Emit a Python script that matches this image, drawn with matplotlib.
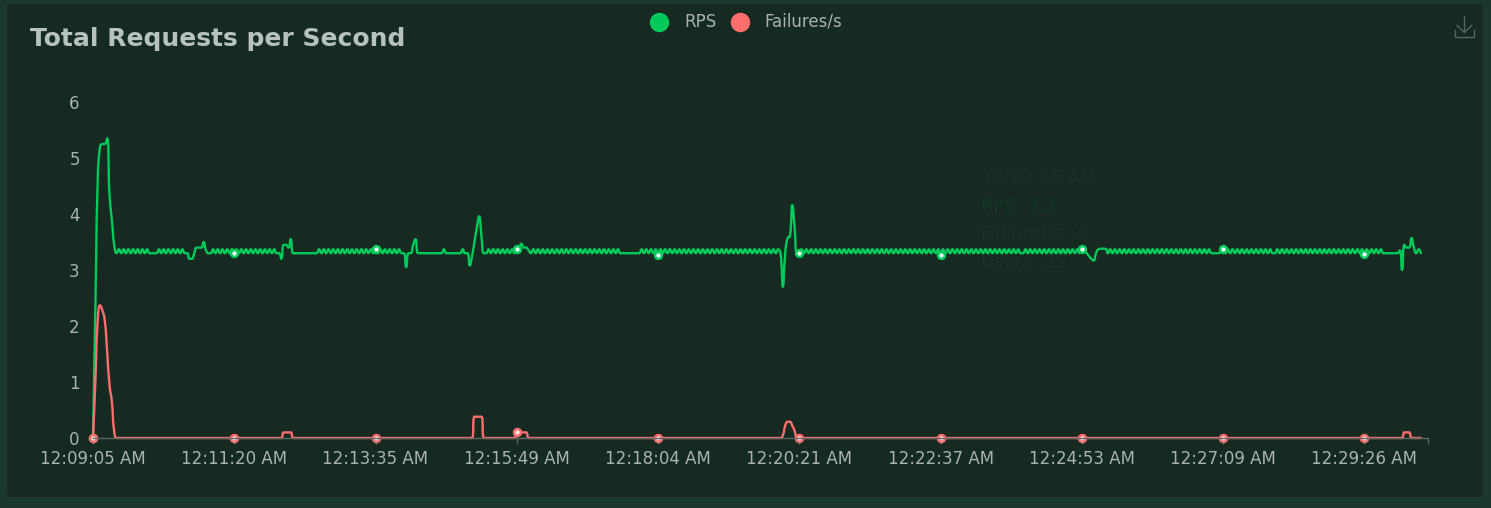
import numpy as np
import matplotlib
matplotlib.use("Agg")
import matplotlib.pyplot as plt
from matplotlib.patches import FancyBboxPatch, PathPatch
from matplotlib.path import Path

# x axis: one category per sample, labels every 60 samples
time_labels = ["12:09:05 AM", "12:11:20 AM", "12:13:35 AM", "12:15:49 AM", "12:18:04 AM",
               "12:20:21 AM", "12:22:37 AM", "12:24:53 AM", "12:27:09 AM", "12:29:26 AM"]
label_step = 60

# RPS samples (rows of 10)
rps = [
    0.0, 2.3, 4.6, 5.2, 5.25, 5.25, 5.35, 4.35, 3.9, 3.45,
    3.3, 3.37, 3.3, 3.37, 3.3, 3.37, 3.3, 3.37, 3.3, 3.37,
    3.3, 3.37, 3.3, 3.37, 3.3, 3.3, 3.3, 3.3, 3.37, 3.3,
    3.37, 3.3, 3.37, 3.3, 3.37, 3.3, 3.37, 3.3, 3.37, 3.3,
    3.3, 3.2, 3.2, 3.3, 3.4, 3.4, 3.4, 3.5, 3.35, 3.3,
    3.3, 3.37, 3.3, 3.37, 3.3, 3.37, 3.3, 3.37, 3.3, 3.37,
    # 12:11:20
    3.3, 3.37, 3.3, 3.37, 3.3, 3.37, 3.3, 3.37, 3.3, 3.37,
    3.3, 3.37, 3.3, 3.37, 3.3, 3.37, 3.3, 3.37, 3.3, 3.3,
    3.2, 3.45, 3.45, 3.4, 3.55, 3.3, 3.3, 3.3, 3.3, 3.3,
    3.3, 3.3, 3.3, 3.3, 3.3, 3.3, 3.37, 3.3, 3.37, 3.3,
    3.37, 3.3, 3.37, 3.3, 3.37, 3.3, 3.37, 3.3, 3.37, 3.3,
    3.37, 3.3, 3.37, 3.3, 3.37, 3.3, 3.37, 3.3, 3.37, 3.3,
    # 12:13:35
    3.37, 3.3, 3.37, 3.3, 3.37, 3.3, 3.37, 3.3, 3.37, 3.3,
    3.37, 3.3, 3.3, 3.05, 3.3, 3.3, 3.45, 3.55, 3.3, 3.3,
    3.3, 3.3, 3.3, 3.3, 3.3, 3.3, 3.3, 3.3, 3.3, 3.37,
    3.3, 3.3, 3.3, 3.3, 3.3, 3.3, 3.3, 3.37, 3.3, 3.3,
    3.08, 3.25, 3.5, 3.75, 3.96, 3.6, 3.3, 3.3, 3.37, 3.3,
    3.37, 3.3, 3.37, 3.3, 3.37, 3.3, 3.37, 3.3, 3.37, 3.3,
    # 12:15:49
    3.37, 3.4, 3.47, 3.4, 3.4, 3.35, 3.3, 3.37, 3.3, 3.37,
    3.3, 3.37, 3.3, 3.37, 3.3, 3.37, 3.3, 3.37, 3.3, 3.37,
    3.3, 3.37, 3.3, 3.37, 3.3, 3.37, 3.3, 3.37, 3.3, 3.37,
    3.3, 3.37, 3.3, 3.37, 3.3, 3.37, 3.3, 3.37, 3.3, 3.37,
    3.3, 3.37, 3.3, 3.37, 3.3, 3.3, 3.3, 3.3, 3.3, 3.3,
    3.3, 3.3, 3.3, 3.37, 3.3, 3.37, 3.3, 3.37, 3.3, 3.37,
    # 12:18:04
    3.27, 3.37, 3.3, 3.37, 3.3, 3.37, 3.3, 3.37, 3.3, 3.37,
    3.3, 3.37, 3.3, 3.37, 3.3, 3.37, 3.3, 3.37, 3.3, 3.37,
    3.3, 3.37, 3.3, 3.37, 3.3, 3.37, 3.3, 3.37, 3.3, 3.37,
    3.3, 3.37, 3.3, 3.37, 3.3, 3.37, 3.3, 3.37, 3.3, 3.37,
    3.3, 3.37, 3.3, 3.37, 3.3, 3.37, 3.3, 3.37, 3.3, 3.37,
    3.3, 3.37, 3.3, 2.7, 3.3, 3.57, 3.6, 4.16, 3.75, 3.3,
    # 12:20:21
    3.3, 3.37, 3.3, 3.37, 3.3, 3.37, 3.3, 3.37, 3.3, 3.37,
    3.3, 3.37, 3.3, 3.37, 3.3, 3.37, 3.3, 3.37, 3.3, 3.37,
    3.3, 3.37, 3.3, 3.37, 3.3, 3.37, 3.3, 3.37, 3.3, 3.37,
    3.3, 3.37, 3.3, 3.37, 3.3, 3.37, 3.3, 3.37, 3.3, 3.37,
    3.3, 3.37, 3.3, 3.37, 3.3, 3.37, 3.3, 3.37, 3.3, 3.37,
    3.3, 3.37, 3.3, 3.37, 3.3, 3.37, 3.3, 3.37, 3.3, 3.37,
    # 12:22:37
    3.27, 3.37, 3.3, 3.37, 3.3, 3.37, 3.3, 3.37, 3.3, 3.37,
    3.3, 3.37, 3.3, 3.37, 3.3, 3.37, 3.3, 3.37, 3.3, 3.37,
    3.3, 3.37, 3.3, 3.37, 3.3, 3.37, 3.3, 3.37, 3.3, 3.37,
    3.3, 3.37, 3.3, 3.37, 3.3, 3.3, 3.37, 3.3, 3.37, 3.3,
    3.37, 3.3, 3.37, 3.3, 3.37, 3.3, 3.37, 3.3, 3.37, 3.3,
    3.37, 3.3, 3.37, 3.3, 3.37, 3.3, 3.37, 3.3, 3.37, 3.3,
    # 12:24:53
    3.38, 3.35, 3.3, 3.25, 3.2, 3.17, 3.3, 3.37, 3.38, 3.38,
    3.38, 3.3, 3.37, 3.3, 3.37, 3.3, 3.37, 3.3, 3.37, 3.3,
    3.37, 3.3, 3.37, 3.3, 3.37, 3.3, 3.37, 3.3, 3.37, 3.3,
    3.37, 3.3, 3.37, 3.3, 3.37, 3.3, 3.37, 3.3, 3.37, 3.3,
    3.37, 3.3, 3.37, 3.3, 3.37, 3.3, 3.37, 3.3, 3.37, 3.3,
    3.37, 3.3, 3.37, 3.3, 3.37, 3.3, 3.3, 3.3, 3.3, 3.33,
    # 12:27:09
    3.37, 3.3, 3.37, 3.3, 3.37, 3.3, 3.37, 3.3, 3.37, 3.3,
    3.37, 3.3, 3.37, 3.3, 3.37, 3.3, 3.37, 3.3, 3.37, 3.3,
    3.37, 3.3, 3.3, 3.37, 3.3, 3.37, 3.3, 3.37, 3.3, 3.37,
    3.3, 3.37, 3.3, 3.37, 3.3, 3.37, 3.3, 3.37, 3.3, 3.37,
    3.3, 3.37, 3.3, 3.37, 3.3, 3.37, 3.3, 3.37, 3.3, 3.37,
    3.3, 3.37, 3.3, 3.37, 3.3, 3.37, 3.3, 3.37, 3.3, 3.37,
    # 12:29:26
    3.28, 3.37, 3.3, 3.37, 3.3, 3.37, 3.3, 3.37, 3.3, 3.3,
    3.3, 3.3, 3.3, 3.3, 3.3, 3.35, 3.0, 3.45, 3.4, 3.4,
    3.57, 3.4, 3.3, 3.37, 3.3,
]

# failures/s is 0 except for these samples
fail_index = [1, 2, 3, 4, 5, 6, 7, 8, 9,
              81, 82, 83, 84,
              162, 163, 164, 165,
              180, 181, 182, 183, 184,
              293, 294, 295, 296, 297, 298,
              557, 558, 559]
fail_value = [1.0, 2.1, 2.37, 2.28, 2.1, 1.55, 0.95, 0.65, 0.12,
              0.1, 0.1, 0.1, 0.1,
              0.38, 0.38, 0.38, 0.38,
              0.1, 0.08, 0.1, 0.1, 0.1,
              0.05, 0.22, 0.29, 0.29, 0.22, 0.13,
              0.1, 0.1, 0.1]

failures = np.zeros(len(rps))
failures[fail_index] = fail_value
x = np.arange(len(rps))

outer_bg = "#1b382c"
card_bg = "#162a22"
green = "#00ca5a"
red = "#ff6d6d"
text_col = "#a9b4ae"
axis_col = "#5c6862"

W, H = 1491, 508
X0, X1, Y0, Y1 = 93, 1428, 438, 102
XMAX, YMAX = 567, 6


def smooth_path(xs, ys, sx, sy, smooth=0.5):
    """Bezier path through the points, echarts-style smoothing (done in pixel units)."""
    p = np.column_stack([np.asarray(xs, float) * sx, np.asarray(ys, float) * sy])
    n = len(p)
    cin = p.copy()
    cout = p.copy()
    for i in range(1, n - 1):
        prev, cur, nxt = p[i - 1], p[i], p[i + 1]
        v = nxt - prev
        l0 = np.hypot(*(cur - prev))
        l1 = np.hypot(*(nxt - cur))
        if l0 + l1 == 0:
            continue
        r = l1 / (l0 + l1)
        c_next = cur + v * smooth * r
        c_next = np.clip(c_next, np.minimum(cur, nxt), np.maximum(cur, nxt))
        v = c_next - cur
        c_prev = cur - v * (l0 / l1 if l1 else 0)
        c_prev = np.clip(c_prev, np.minimum(cur, prev), np.maximum(cur, prev))
        v = cur - c_prev
        c_next = cur + v * (l1 / l0 if l0 else 0)
        cin[i] = c_prev
        cout[i] = c_next
    verts = [p[0]]
    codes = [Path.MOVETO]
    for i in range(n - 1):
        verts += [cout[i], cin[i + 1], p[i + 1]]
        codes += [Path.CURVE4] * 3
    verts = np.array(verts) / [sx, sy]
    return Path(verts, codes)


fig = plt.figure(figsize=(W / 100, H / 100), dpi=100)
fig.patch.set_facecolor(outer_bg)

# background layer in pixel coordinates
bg = fig.add_axes([0, 0, 1, 1])
bg.set_xlim(0, W)
bg.set_ylim(H, 0)
bg.axis("off")
bg.add_patch(FancyBboxPatch((7, 4), 1476, 493, boxstyle="round,pad=0,rounding_size=4",
                            fc=card_bg, ec="none"))
bg.text(30, 46, "Total Requests per Second", fontsize=18, fontweight="bold",
        color="#b6c2bb", va="baseline", ha="left")

# legend
bg.plot(659, 21.5, "o", ms=14, color=green, mec="none")
bg.text(684, 26.7, "RPS", fontsize=12, color=text_col, va="baseline")
bg.plot(740, 21.5, "o", ms=14, color=red, mec="none")
bg.text(764, 26.7, "Failures/s", fontsize=12, color=text_col, va="baseline")

# download icon
icon = "#56675f"
bg.plot([1464.3, 1464.3], [16, 32], color=icon, lw=1)
bg.plot([1457, 1464.3, 1471.6], [25.5, 32.5, 25.5], color=icon, lw=1)
bg.plot([1454.5, 1454.5, 1474, 1474], [30, 37, 37, 30], color=icon, lw=1)

# faded tooltip left on the chart
ghost = "#1c3028"
bg.text(981, 178, "12:22:35 AM", fontsize=13, color=ghost, va="center")
bg.text(981, 206.5, "RPS: 3.3", fontsize=13, color="#113825", va="center")
bg.text(981, 234, "Failures/s: 0", fontsize=13, color=ghost, va="center")
bg.text(981, 262, "Users: 25", fontsize=13, color=ghost, va="center")

# chart area
ax = fig.add_axes([X0 / W, (H - Y0) / H, (X1 - X0) / W, (Y0 - Y1) / H])
ax.set_facecolor("none")
sx = (X1 - X0) / XMAX
sy = (Y0 - Y1) / YMAX
for series, col, face in [(rps, green, "#eaf7ef"), (failures, red, "#f7e4e4")]:
    ax.add_patch(PathPatch(smooth_path(x, series, sx, sy), fc="none", ec=col, lw=1.7,
                           clip_on=False, joinstyle="round", capstyle="round"))
    ax.plot(x, series, ls="none", marker="o", markevery=label_step, ms=5, mfc=face,
            mec=col, mew=1.8, clip_on=False)

ax.set_xlim(0, XMAX)
ax.set_ylim(0, YMAX)
ax.set_xticks(np.arange(len(time_labels)) * label_step)
ax.set_xticklabels(time_labels)
ax.set_xticks([XMAX], minor=True)
ax.set_yticks(range(0, YMAX + 1))

for side in ["top", "right", "left"]:
    ax.spines[side].set_visible(False)
ax.spines["bottom"].set_color(axis_col)
ax.spines["bottom"].set_linewidth(1)
ax.tick_params(axis="x", which="both", length=4.3, width=1, color=axis_col,
               labelcolor=text_col, labelsize=12, pad=4)
ax.tick_params(axis="y", length=0, labelcolor=text_col, labelsize=12, pad=9.5)

fig.savefig("out.png", dpi=100, facecolor=fig.get_facecolor())
